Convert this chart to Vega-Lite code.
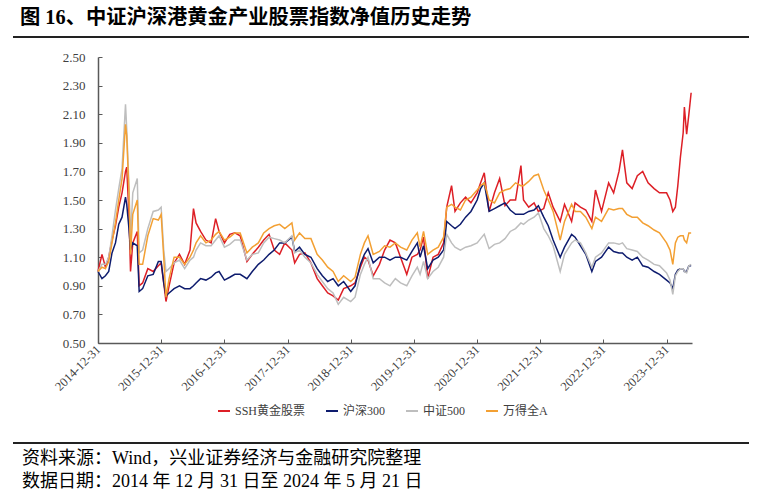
{
  "$schema": "https://vega.github.io/schema/vega-lite/v6.json",
  "padding": {"left": 13, "top": 7, "right": 0, "bottom": 0},
  "background": "white",
  "config": {
    "view": {"stroke": null},
    "font": "Liberation Serif, Noto Sans CJK SC",
    "title": {"font": "Liberation Serif, Noto Sans CJK SC"}
  },
  "spacing": 13,
  "resolve": {"legend": {"color": "independent"}},
  "vconcat": [
    {
      "width": 736,
      "height": 2,
      "title": {"text": "图 16、中证沪深港黄金产业股票指数净值历史走势", "anchor": "start", "orient": "top", "fontSize": 20.3, "fontWeight": "bold", "color": "#000000", "offset": 8, "dx": 7},
      "data": {"values": [{}]},
      "mark": {"type": "rect", "color": "#222222"},
      "encoding": {}
    },
    {
      "spacing": 25,
      "resolve": {"legend": {"color": "independent"}},
      "vconcat": [
        {
          "spacing": 0,
          "resolve": {"legend": {"color": "independent"}},
          "hconcat": [
            {
              "width": 1,
              "height": 286,
              "data": {"values": []},
              "mark": "point"
            },
            {
              "width": 594,
              "height": 286,
              "data": {"values": [
                {"date": "2014-12-31", "SSH黄金股票": 1.00, "沪深300": 1.00, "中证500": 1.00, "万得全A": 1.00},
                {"date": "2015-01-23", "SSH黄金股票": 1.12, "沪深300": 0.95, "中证500": 1.05, "万得全A": 1.03},
                {"date": "2015-02-12", "SSH黄金股票": 1.03, "沪深300": 0.97, "中证500": 1.05, "万得全A": 1.02},
                {"date": "2015-03-03", "SSH黄金股票": 1.10, "沪深300": 1.00, "中证500": 1.10, "万得全A": 1.07},
                {"date": "2015-03-22", "SSH黄金股票": 1.22, "沪深300": 1.13, "中证500": 1.25, "万得全A": 1.20},
                {"date": "2015-04-11", "SSH黄金股票": 1.32, "沪深300": 1.20, "中证500": 1.43, "万得全A": 1.34},
                {"date": "2015-04-30", "SSH黄金股票": 1.45, "沪深300": 1.33, "中证500": 1.58, "万得全A": 1.50},
                {"date": "2015-05-19", "SSH黄金股票": 1.55, "沪深300": 1.38, "中证500": 1.72, "万得全A": 1.65},
                {"date": "2015-06-08", "SSH黄金股票": 1.70, "沪深300": 1.52, "中证500": 2.17, "万得全A": 2.03},
                {"date": "2015-06-15", "SSH黄金股票": 1.73, "沪深300": 1.47, "中证500": 2.00, "万得全A": 1.95},
                {"date": "2015-06-28", "SSH黄金股票": 1.40, "沪深300": 1.30, "中证500": 1.60, "万得全A": 1.55},
                {"date": "2015-07-07", "SSH黄金股票": 1.00, "沪深300": 1.15, "中证500": 1.22, "万得全A": 1.12},
                {"date": "2015-07-20", "SSH黄金股票": 1.20, "沪深300": 1.20, "中证500": 1.55, "万得全A": 1.40},
                {"date": "2015-08-15", "SSH黄金股票": 1.28, "沪深300": 1.18, "中证500": 1.65, "万得全A": 1.50},
                {"date": "2015-08-26", "SSH黄金股票": 0.90, "沪深300": 0.86, "中证500": 1.13, "万得全A": 1.05},
                {"date": "2015-09-15", "SSH黄金股票": 0.92, "沪深300": 0.88, "中证500": 1.15, "万得全A": 1.05},
                {"date": "2015-10-15", "SSH黄金股票": 1.02, "沪深300": 0.97, "中证500": 1.30, "万得全A": 1.25},
                {"date": "2015-11-15", "SSH黄金股票": 1.00, "沪深300": 0.98, "中证500": 1.42, "万得全A": 1.37},
                {"date": "2015-12-15", "SSH黄金股票": 1.04, "沪深300": 1.07, "中证500": 1.43, "万得全A": 1.36},
                {"date": "2015-12-31", "SSH黄金股票": 1.06, "沪深300": 1.07, "中证500": 1.45, "万得全A": 1.40},
                {"date": "2016-01-15", "SSH黄金股票": 0.92, "沪深300": 0.92, "中证500": 1.15, "万得全A": 1.10},
                {"date": "2016-01-28", "SSH黄金股票": 0.79, "沪深300": 0.83, "中证500": 1.00, "万得全A": 0.82},
                {"date": "2016-02-15", "SSH黄金股票": 0.90, "沪深300": 0.85, "中证500": 1.02, "万得全A": 0.95},
                {"date": "2016-03-15", "SSH黄金股票": 1.06, "沪深300": 0.88, "中证500": 1.06, "万得全A": 1.10},
                {"date": "2016-04-15", "SSH黄金股票": 1.12, "沪深300": 0.90, "中证500": 1.08, "万得全A": 1.10},
                {"date": "2016-05-15", "SSH黄金股票": 1.05, "沪深300": 0.88, "中证500": 1.02, "万得全A": 1.05},
                {"date": "2016-06-15", "SSH黄金股票": 1.15, "沪深300": 0.88, "中证500": 1.08, "万得全A": 1.10},
                {"date": "2016-07-05", "SSH黄金股票": 1.44, "沪深300": 0.90, "中证500": 1.10, "万得全A": 1.15},
                {"date": "2016-07-20", "SSH黄金股票": 1.34, "沪深300": 0.92, "中证500": 1.15, "万得全A": 1.20},
                {"date": "2016-08-15", "SSH黄金股票": 1.28, "沪深300": 0.95, "中证500": 1.20, "万得全A": 1.25},
                {"date": "2016-09-15", "SSH黄金股票": 1.22, "沪深300": 0.94, "中证500": 1.18, "万得全A": 1.20},
                {"date": "2016-10-15", "SSH黄金股票": 1.20, "沪深300": 0.96, "中证500": 1.18, "万得全A": 1.22},
                {"date": "2016-11-10", "SSH黄金股票": 1.37, "沪深300": 0.99, "中证500": 1.22, "万得全A": 1.26},
                {"date": "2016-11-30", "SSH黄金股票": 1.28, "沪深300": 1.00, "中证500": 1.25, "万得全A": 1.28},
                {"date": "2016-12-31", "SSH黄金股票": 1.20, "沪深300": 0.94, "中证500": 1.17, "万得全A": 1.22},
                {"date": "2017-01-31", "SSH黄金股票": 1.26, "沪深300": 0.96, "中证500": 1.19, "万得全A": 1.24},
                {"date": "2017-03-01", "SSH黄金股票": 1.27, "沪深300": 0.98, "中证500": 1.22, "万得全A": 1.27},
                {"date": "2017-04-01", "SSH黄金股票": 1.25, "沪深300": 0.98, "中证500": 1.22, "万得全A": 1.27},
                {"date": "2017-05-10", "SSH黄金股票": 1.07, "沪深300": 0.95, "中证500": 1.08, "万得全A": 1.13},
                {"date": "2017-06-10", "SSH黄金股票": 1.12, "沪深300": 1.00, "中证500": 1.12, "万得全A": 1.17},
                {"date": "2017-07-15", "SSH黄金股票": 1.17, "沪深300": 1.05, "中证500": 1.13, "万得全A": 1.20},
                {"date": "2017-08-15", "SSH黄金股票": 1.22, "沪深300": 1.08, "中证500": 1.20, "万得全A": 1.27},
                {"date": "2017-09-15", "SSH黄金股票": 1.26, "沪深300": 1.12, "中证500": 1.24, "万得全A": 1.30},
                {"date": "2017-10-15", "SSH黄金股票": 1.15, "沪深300": 1.15, "中证500": 1.23, "万得全A": 1.32},
                {"date": "2017-11-15", "SSH黄金股票": 1.12, "沪深300": 1.20, "中证500": 1.22, "万得全A": 1.33},
                {"date": "2017-12-15", "SSH黄金股票": 1.20, "沪深300": 1.20, "中证500": 1.20, "万得全A": 1.30},
                {"date": "2018-01-25", "SSH黄金股票": 1.15, "沪深300": 1.24, "中证500": 1.25, "万得全A": 1.34},
                {"date": "2018-02-10", "SSH黄金股票": 1.06, "沪深300": 1.14, "中证500": 1.13, "万得全A": 1.22},
                {"date": "2018-03-10", "SSH黄金股票": 1.12, "沪深300": 1.17, "中证500": 1.15, "万得全A": 1.27},
                {"date": "2018-04-10", "SSH黄金股票": 1.13, "沪深300": 1.12, "中证500": 1.10, "万得全A": 1.23},
                {"date": "2018-05-15", "SSH黄金股票": 1.06, "沪深300": 1.10, "中证500": 1.06, "万得全A": 1.23},
                {"date": "2018-06-20", "SSH黄金股票": 0.95, "沪深300": 1.02, "中证500": 0.98, "万得全A": 1.12},
                {"date": "2018-07-20", "SSH黄金股票": 0.90, "沪深300": 0.97, "中证500": 0.93, "万得全A": 1.08},
                {"date": "2018-08-20", "SSH黄金股票": 0.85, "沪深300": 0.93, "中证500": 0.88, "万得全A": 1.03},
                {"date": "2018-09-20", "SSH黄金股票": 0.83, "沪深300": 0.95, "中证500": 0.85, "万得全A": 1.00},
                {"date": "2018-10-20", "SSH黄金股票": 0.80, "沪深300": 0.90, "中证500": 0.77, "万得全A": 0.93},
                {"date": "2018-11-20", "SSH黄金股票": 0.88, "沪深300": 0.93, "中证500": 0.82, "万得全A": 0.97},
                {"date": "2018-12-31", "SSH黄金股票": 0.90, "沪深300": 0.86, "中证500": 0.79, "万得全A": 0.93},
                {"date": "2019-01-25", "SSH黄金股票": 0.92, "沪深300": 0.90, "中证500": 0.82, "万得全A": 0.96},
                {"date": "2019-02-25", "SSH黄金股票": 1.03, "沪深300": 1.05, "中证500": 0.98, "万得全A": 1.12},
                {"date": "2019-03-20", "SSH黄金股票": 1.10, "沪深300": 1.12, "中证500": 1.05, "万得全A": 1.20},
                {"date": "2019-04-10", "SSH黄金股票": 1.08, "沪深300": 1.16, "中证500": 1.10, "万得全A": 1.25},
                {"date": "2019-05-10", "SSH黄金股票": 0.97, "沪深300": 1.06, "中证500": 0.95, "万得全A": 1.12},
                {"date": "2019-06-15", "SSH黄金股票": 1.05, "沪深300": 1.10, "中证500": 0.95, "万得全A": 1.14},
                {"date": "2019-07-15", "SSH黄金股票": 1.15, "沪深300": 1.10, "中证500": 0.92, "万得全A": 1.18},
                {"date": "2019-08-15", "SSH黄金股票": 1.22, "沪深300": 1.08, "中证500": 0.90, "万得全A": 1.17},
                {"date": "2019-09-15", "SSH黄金股票": 1.20, "沪深300": 1.10, "中证500": 0.95, "万得全A": 1.20},
                {"date": "2019-10-15", "SSH黄金股票": 1.10, "沪深300": 1.10, "中证500": 0.92, "万得全A": 1.17},
                {"date": "2019-11-20", "SSH黄金股票": 0.98, "沪深300": 1.08, "中证500": 0.90, "万得全A": 1.15},
                {"date": "2019-12-20", "SSH黄金股票": 1.10, "沪深300": 1.14, "中证500": 0.97, "万得全A": 1.22},
                {"date": "2020-01-20", "SSH黄金股票": 1.12, "沪深300": 1.20, "中证500": 1.03, "万得全A": 1.27},
                {"date": "2020-02-05", "SSH黄金股票": 1.15, "沪深300": 1.10, "中证500": 0.98, "万得全A": 1.17},
                {"date": "2020-02-25", "SSH黄金股票": 1.24, "沪深300": 1.18, "中证500": 1.07, "万得全A": 1.28},
                {"date": "2020-03-20", "SSH黄金股票": 0.95, "沪深300": 1.02, "中证500": 0.95, "万得全A": 1.12},
                {"date": "2020-04-20", "SSH黄金股票": 1.10, "沪深300": 1.08, "中证500": 1.00, "万得全A": 1.15},
                {"date": "2020-05-20", "SSH黄金股票": 1.12, "沪深300": 1.10, "中证500": 1.03, "万得全A": 1.17},
                {"date": "2020-06-20", "SSH黄金股票": 1.20, "沪深300": 1.15, "中证500": 1.10, "万得全A": 1.24},
                {"date": "2020-07-08", "SSH黄金股票": 1.45, "沪深300": 1.35, "中证500": 1.26, "万得全A": 1.45},
                {"date": "2020-08-05", "SSH黄金股票": 1.60, "沪深300": 1.32, "中证500": 1.20, "万得全A": 1.47},
                {"date": "2020-08-25", "SSH黄金股票": 1.42, "沪深300": 1.30, "中证500": 1.17, "万得全A": 1.45},
                {"date": "2020-09-25", "SSH黄金股票": 1.48, "沪深300": 1.33, "中证500": 1.15, "万得全A": 1.43},
                {"date": "2020-10-25", "SSH黄金股票": 1.52, "沪深300": 1.38, "中证500": 1.17, "万得全A": 1.50},
                {"date": "2020-11-25", "SSH黄金股票": 1.48, "沪深300": 1.42, "中证500": 1.18, "万得全A": 1.52},
                {"date": "2020-12-31", "SSH黄金股票": 1.55, "沪深300": 1.50, "中证500": 1.20, "万得全A": 1.57},
                {"date": "2021-01-20", "SSH黄金股票": 1.62, "沪深300": 1.58, "中证500": 1.23, "万得全A": 1.60},
                {"date": "2021-02-10", "SSH黄金股票": 1.69, "沪深300": 1.62, "中证500": 1.26, "万得全A": 1.62},
                {"date": "2021-03-10", "SSH黄金股票": 1.42, "沪深300": 1.42, "中证500": 1.16, "万得全A": 1.50},
                {"date": "2021-04-10", "SSH黄金股票": 1.55, "沪深300": 1.44, "中证500": 1.19, "万得全A": 1.48},
                {"date": "2021-05-10", "SSH黄金股票": 1.65, "沪深300": 1.46, "中证500": 1.20, "万得全A": 1.55},
                {"date": "2021-06-10", "SSH黄金股票": 1.46, "沪深300": 1.48, "中证500": 1.23, "万得全A": 1.57},
                {"date": "2021-07-10", "SSH黄金股票": 1.50, "沪深300": 1.43, "中证500": 1.28, "万得全A": 1.58},
                {"date": "2021-08-10", "SSH黄金股票": 1.50, "沪深300": 1.40, "中证500": 1.30, "万得全A": 1.62},
                {"date": "2021-09-10", "SSH黄金股票": 1.74, "沪深300": 1.40, "中证500": 1.34, "万得全A": 1.60},
                {"date": "2021-09-25", "SSH黄金股票": 1.50, "沪深300": 1.40, "中证500": 1.33, "万得全A": 1.60},
                {"date": "2021-10-25", "SSH黄金股票": 1.45, "沪深300": 1.42, "中证500": 1.36, "万得全A": 1.63},
                {"date": "2021-11-25", "SSH黄金股票": 1.48, "沪深300": 1.43, "中证500": 1.38, "万得全A": 1.67},
                {"date": "2021-12-20", "SSH黄金股票": 1.42, "沪深300": 1.46, "中证500": 1.41, "万得全A": 1.68},
                {"date": "2022-01-20", "SSH黄金股票": 1.44, "沪深300": 1.38, "中证500": 1.30, "万得全A": 1.57},
                {"date": "2022-02-15", "SSH黄金股票": 1.55, "沪深300": 1.32, "中证500": 1.25, "万得全A": 1.50},
                {"date": "2022-03-15", "SSH黄金股票": 1.45, "沪深300": 1.22, "中证500": 1.18, "万得全A": 1.42},
                {"date": "2022-04-25", "SSH黄金股票": 1.35, "沪深300": 1.10, "中证500": 1.00, "万得全A": 1.22},
                {"date": "2022-05-20", "SSH黄金股票": 1.47, "沪深300": 1.17, "中证500": 1.12, "万得全A": 1.35},
                {"date": "2022-06-30", "SSH黄金股票": 1.35, "沪深300": 1.26, "中证500": 1.20, "万得全A": 1.47},
                {"date": "2022-07-20", "SSH黄金股票": 1.48, "沪深300": 1.24, "中证500": 1.22, "万得全A": 1.42},
                {"date": "2022-08-20", "SSH黄金股票": 1.45, "沪深300": 1.18, "中证500": 1.20, "万得全A": 1.42},
                {"date": "2022-09-20", "SSH黄金股票": 1.43, "沪深300": 1.12, "中证500": 1.13, "万得全A": 1.38},
                {"date": "2022-10-25", "SSH黄金股票": 1.35, "沪深300": 1.00, "中证500": 1.03, "万得全A": 1.30},
                {"date": "2022-11-15", "SSH黄金股票": 1.57, "沪深300": 1.07, "中证500": 1.10, "万得全A": 1.38},
                {"date": "2022-12-20", "SSH黄金股票": 1.42, "沪深300": 1.10, "中证500": 1.13, "万得全A": 1.35},
                {"date": "2023-01-30", "SSH黄金股票": 1.62, "沪深300": 1.17, "中证500": 1.20, "万得全A": 1.44},
                {"date": "2023-02-28", "SSH黄金股票": 1.55, "沪深300": 1.14, "中证500": 1.20, "万得全A": 1.43},
                {"date": "2023-03-31", "SSH黄金股票": 1.70, "沪深300": 1.13, "中证500": 1.19, "万得全A": 1.44},
                {"date": "2023-04-20", "SSH黄金股票": 1.85, "沪深300": 1.13, "中证500": 1.20, "万得全A": 1.44},
                {"date": "2023-05-15", "SSH黄金股票": 1.62, "沪深300": 1.10, "中证500": 1.16, "万得全A": 1.40},
                {"date": "2023-06-15", "SSH黄金股票": 1.58, "沪深300": 1.08, "中证500": 1.15, "万得全A": 1.38},
                {"date": "2023-07-15", "SSH黄金股票": 1.67, "沪深300": 1.10, "中证500": 1.14, "万得全A": 1.38},
                {"date": "2023-08-15", "SSH黄金股票": 1.70, "沪深300": 1.04, "中证500": 1.10, "万得全A": 1.34},
                {"date": "2023-09-15", "SSH黄金股票": 1.62, "沪深300": 1.03, "中证500": 1.08, "万得全A": 1.32},
                {"date": "2023-10-20", "SSH黄金股票": 1.58, "沪深300": 1.00, "中证500": 1.05, "万得全A": 1.29},
                {"date": "2023-11-20", "SSH黄金股票": 1.55, "沪深300": 0.98, "中证500": 1.04, "万得全A": 1.27},
                {"date": "2023-12-31", "SSH黄金股票": 1.55, "沪深300": 0.94, "中证500": 0.99, "万得全A": 1.20},
                {"date": "2024-01-20", "SSH黄金股票": 1.50, "沪深300": 0.92, "中证500": 0.94, "万得全A": 1.15},
                {"date": "2024-02-05", "SSH黄金股票": 1.42, "沪深300": 0.88, "中证500": 0.84, "万得全A": 1.05},
                {"date": "2024-02-20", "SSH黄金股票": 1.45, "沪深300": 0.98, "中证500": 0.97, "万得全A": 1.20},
                {"date": "2024-03-05", "SSH黄金股票": 1.60, "沪深300": 1.01, "中证500": 1.00, "万得全A": 1.24},
                {"date": "2024-03-20", "SSH黄金股票": 1.80, "沪深300": 1.02, "中证500": 1.02, "万得全A": 1.25},
                {"date": "2024-04-05", "SSH黄金股票": 1.97, "沪深300": 1.02, "中证500": 1.02, "万得全A": 1.25},
                {"date": "2024-04-12", "SSH黄金股票": 2.15, "沪深300": 1.00, "中证500": 1.00, "万得全A": 1.22},
                {"date": "2024-04-25", "SSH黄金股票": 1.96, "沪深300": 1.00, "中证500": 0.99, "万得全A": 1.20},
                {"date": "2024-05-08", "SSH黄金股票": 2.10, "沪深300": 1.04, "中证500": 1.04, "万得全A": 1.27},
                {"date": "2024-05-21", "SSH黄金股票": 2.25, "沪深300": 1.04, "中证500": 1.05, "万得全A": 1.27}
              ]},
              "transform": [{"fold": ["SSH黄金股票", "沪深300", "中证500", "万得全A"], "as": ["series", "value"]}],
              "mark": {"type": "line", "strokeWidth": 1.5},
              "encoding": {
                "x": {
                  "field": "date",
                  "type": "temporal",
                  "scale": {"domain": [{"year": 2014, "month": 12, "date": 31}, {"year": 2024, "month": 5, "date": 26}]},
                  "axis": {
                    "title": null,
                    "grid": false,
                    "format": "%Y-%m-%d",
                    "values": [
                      {"year": 2014, "month": 12, "date": 31},
                      {"year": 2015, "month": 12, "date": 31},
                      {"year": 2016, "month": 12, "date": 31},
                      {"year": 2017, "month": 12, "date": 31},
                      {"year": 2018, "month": 12, "date": 31},
                      {"year": 2019, "month": 12, "date": 31},
                      {"year": 2020, "month": 12, "date": 31},
                      {"year": 2021, "month": 12, "date": 31},
                      {"year": 2022, "month": 12, "date": 31},
                      {"year": 2023, "month": 12, "date": 31}
                    ],
                    "labelAngle": -45,
                    "labelAlign": "right",
                    "labelBaseline": "middle",
                    "labelFontSize": 12.5,
                    "labelColor": "#404040",
                    "labelPadding": 8,
                    "labelFlush": false,
                    "labelOverlap": false,
                    "domainColor": "#595959",
                    "domainWidth": 1.5,
                    "tickColor": "#595959",
                    "tickSize": -4
                  }
                },
                "y": {
                  "field": "value",
                  "type": "quantitative",
                  "scale": {"domain": [0.5, 2.5], "nice": false, "zero": false},
                  "axis": {
                    "title": null,
                    "grid": false,
                    "values": [0.5, 0.7, 0.9, 1.1, 1.3, 1.5, 1.7, 1.9, 2.1, 2.3, 2.5],
                    "format": ".2f",
                    "labelFontSize": 13,
                    "labelColor": "#404040",
                    "labelPadding": 17,
                    "domainColor": "#595959",
                    "domainWidth": 1.5,
                    "tickColor": "#595959",
                    "tickSize": -4,
                    "minExtent": 84,
                    "maxExtent": 84
                  }
                },
                "color": {
                  "field": "series",
                  "type": "nominal",
                  "scale": {"domain": ["SSH黄金股票", "沪深300", "中证500", "万得全A"], "range": ["#DD1F26", "#0E1C6E", "#BEBEBE", "#F3A033"]},
                  "legend": {
                    "title": null,
                    "orient": "none",
                    "legendX": 119,
                    "legendY": 347,
                    "direction": "horizontal",
                    "symbolType": "stroke",
                    "symbolStrokeWidth": 2,
                    "symbolSize": 144,
                    "labelFontSize": 12,
                    "labelColor": "#404040",
                    "columnPadding": 16
                  }
                }
              }
            }
          ]
        },
        {
          "width": 736,
          "height": 2,
          "title": {"text": ["资料来源：Wind，兴业证券经济与金融研究院整理", "数据日期：2014 年 12 月 31 日至 2024 年 5 月 21 日"], "orient": "bottom", "anchor": "start", "fontSize": 18, "fontWeight": "normal", "color": "#000000", "lineHeight": 23, "offset": 6, "dx": 9},
          "data": {"values": [{}]},
          "mark": {"type": "rect", "color": "#222222"},
          "encoding": {}
        }
      ]
    }
  ]
}
